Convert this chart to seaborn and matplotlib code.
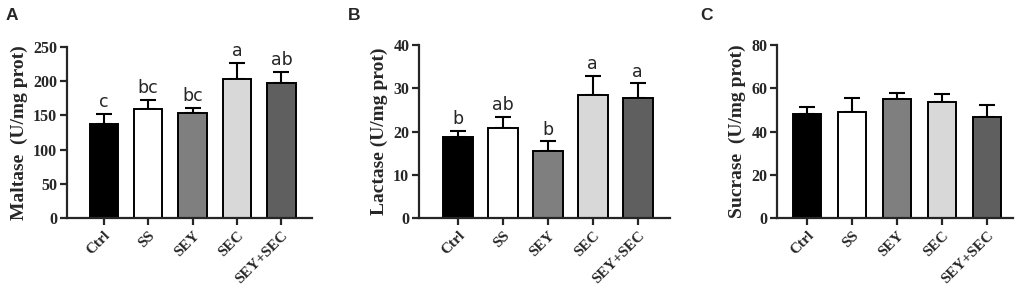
import numpy as np
import pandas as pd
import matplotlib
matplotlib.use("Agg")
import matplotlib.pyplot as plt
import seaborn as sns

groups = ["Ctrl", "SS", "SEY", "SEC", "SEY+SEC"]
colors = ["#000000", "#ffffff", "#7f7f7f", "#d8d8d8", "#5f5f5f"]

maltase = [138, 159, 154, 203, 197]
maltase_err = [14, 14, 7, 24, 17]
maltase_sig = ["c", "bc", "bc", "a", "ab"]

lactase = [18.8, 20.7, 15.4, 28.4, 27.8]
lactase_err = [1.3, 2.6, 2.3, 4.5, 3.3]
lactase_sig = ["b", "ab", "b", "a", "a"]

sucrase = [48.0, 48.8, 55.0, 53.5, 46.5]
sucrase_err = [3.5, 6.7, 2.8, 4.0, 5.7]
sucrase_sig = ["", "", "", "", ""]

ylabels = ["Maltase  (U/mg prot)", "Lactase (U/mg prot)", "Sucrase  (U/mg prot)"]
ylims = [250, 40, 80]
ysteps = [50, 10, 20]
panel_letters = ["A", "B", "C"]

sns.set_style("ticks")
plt.rcParams["font.family"] = ["Liberation Serif", "DejaVu Serif"]

fig = plt.figure(figsize=(10.21, 2.93), dpi=100)
rects = [
    [67 / 1021, 1 - 218 / 293, 245 / 1021, 171 / 293],
    [419 / 1021, 1 - 218 / 293, 251 / 1021, 173 / 293],
    [777 / 1021, 1 - 218 / 293, 236 / 1021, 173 / 293],
]
xlims = [(-0.83, 4.69), (-0.87, 4.72), (-0.67, 4.58)]
widths = [0.64, 0.67, 0.63]
letter_x = [6, 348, 700]

datasets = [
    (maltase, maltase_err, maltase_sig),
    (lactase, lactase_err, lactase_sig),
    (sucrase, sucrase_err, sucrase_sig),
]

for i, (vals, errs, sigs) in enumerate(datasets):
    ax = fig.add_axes(rects[i])
    df = pd.DataFrame({"group": groups, "value": vals})
    sns.barplot(data=df, x="group", y="value", hue="group", palette=colors,
                order=groups, hue_order=groups, legend=False, errorbar=None,
                edgecolor="black", linewidth=1.4, width=widths[i], ax=ax, zorder=2)
    xs = np.arange(len(groups))
    ax.errorbar(xs, vals, yerr=[np.zeros(len(errs)), errs], fmt="none",
                ecolor="black", elinewidth=1.5, capsize=5.5, capthick=1.5, zorder=1)
    for x, v, e, s in zip(xs, vals, errs, sigs):
        if s:
            ax.annotate(s, (x, v + e), xytext=(0, 2), textcoords="offset points",
                        ha="center", va="bottom", fontsize=12.5,
                        family=["DejaVu Sans"])
    ax.set_xlim(*xlims[i])
    ax.set_ylim(0, ylims[i])
    ax.set_yticks(np.arange(0, ylims[i] + 1, ysteps[i]))
    ax.set_xlabel("")
    ax.set_ylabel(ylabels[i], fontsize=14, fontweight="bold", labelpad=4)
    ax.set_xticks(xs)
    ax.set_xticklabels(groups, rotation=45, ha="right", rotation_mode="anchor",
                       fontsize=11, fontweight="bold")
    for lab in ax.get_yticklabels():
        lab.set_fontweight("bold")
        lab.set_fontsize(11.5)
    sns.despine(ax=ax)
    for sp in ["left", "bottom"]:
        ax.spines[sp].set_linewidth(1.6)
    ax.tick_params(axis="both", width=1.6, length=5, direction="out", pad=2)
    ax.tick_params(axis="x", pad=3)
    fig.text(letter_x[i] / 1021, 1 - 16 / 293, panel_letters[i], fontsize=12.5,
             fontweight="bold", family=["Liberation Sans", "DejaVu Sans"],
             va="center", ha="left")

fig.savefig("out.png", dpi=100)
